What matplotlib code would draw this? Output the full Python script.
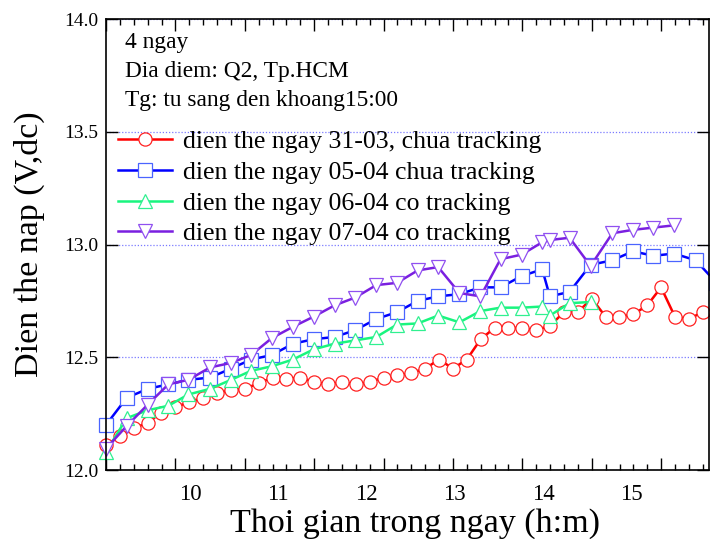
import matplotlib
matplotlib.use("Agg")
import matplotlib.pyplot as plt
from matplotlib.ticker import MultipleLocator

plt.rcParams["font.family"] = ["Liberation Serif", "DejaVu Serif"]

# ---------- data (x in hours as labelled on the axis) ----------
t_red = [9.047, 9.204, 9.362, 9.519, 9.676, 9.834, 9.991, 10.148, 10.305, 10.463,
         10.620, 10.777, 10.935, 11.092, 11.249, 11.407, 11.564, 11.721, 11.878, 12.036,
         12.193, 12.350, 12.508, 12.665, 12.822, 12.980, 13.137, 13.294, 13.451, 13.609,
         13.766, 13.923, 14.081, 14.238, 14.395, 14.553, 14.710, 14.867, 15.024, 15.182,
         15.339, 15.496, 15.654, 15.811, 15.968]
v_3103 = [12.11, 12.15, 12.185, 12.21, 12.255, 12.28, 12.30, 12.32, 12.34, 12.355,
          12.36, 12.385, 12.41, 12.405, 12.41, 12.39, 12.38, 12.39, 12.38, 12.39,
          12.41, 12.42, 12.43, 12.45, 12.49, 12.45, 12.49, 12.58, 12.63, 12.63,
          12.63, 12.62, 12.64, 12.70, 12.70, 12.76, 12.68, 12.68, 12.69, 12.73,
          12.81, 12.68, 12.67, 12.70, 12.67]

t_other = [9.047, 9.281, 9.520, 9.754, 9.981, 10.227, 10.465, 10.692, 10.927, 11.166,
           11.400, 11.638, 11.873, 12.111, 12.346, 12.580, 12.812, 13.053, 13.292, 13.519,
           13.757, 13.992, 14.078, 14.302, 14.540, 14.787, 15.020, 15.252, 15.486, 15.732,
           15.967]
v_0504 = [12.20, 12.32, 12.36, 12.38, 12.40, 12.41, 12.45, 12.49, 12.51, 12.56,
          12.58, 12.59, 12.62, 12.67, 12.70, 12.75, 12.77, 12.78, 12.81, 12.81,
          12.86, 12.89, 12.77, 12.79, 12.91, 12.93, 12.97, 12.95, 12.96, 12.93,
          12.83]
v_0604 = [12.08, 12.23, 12.265, 12.285, 12.335, 12.36, 12.40, 12.44, 12.46, 12.49,
          12.535, 12.56, 12.575, 12.59, 12.645, 12.65, 12.685, 12.655, 12.705, 12.72,
          12.72, 12.725, 12.685, 12.74, 12.745]
v_0704 = [12.095, 12.195, 12.29, 12.38, 12.40, 12.455, 12.475, 12.51, 12.585, 12.635,
          12.68, 12.73, 12.765, 12.82, 12.83, 12.885, 12.90, 12.785, 12.77, 12.935,
          12.955, 13.01, 13.02, 13.03, 12.905, 13.05, 13.065, 13.075, 13.085]

labels = ["dien the ngay 31-03, chua tracking",
          "dien the ngay 05-04 chua tracking",
          "dien the ngay 06-04 co tracking",
          "dien the ngay 07-04 co tracking"]
hour_ticks = [10, 11, 12, 13, 14, 15]
info_lines = ["4 ngay", "Dia diem: Q2, Tp.HCM", "Tg: tu sang den khoang15:00"]

# ---------- figure ----------
fig = plt.figure(figsize=(7.1, 5.39), dpi=100)
ax = fig.add_axes([0.1493, 0.128, 0.8490, 0.8367])

common = dict(lw=1.8, ms=9.5, mew=0.9, mfc="white", clip_on=False)
ax.plot(t_red, v_3103, marker="o", color="#ff0000", mec="#ff2020", label=labels[0], **common)
ax.plot(t_other, v_0504, marker="s", color="#0000ff", mec="#4a64ff", label=labels[1], **common)
ax.plot(t_other[:len(v_0604)], v_0604, marker="^", color="#19f57f", mec="#30f090",
        label=labels[2], **common)
ax.plot(t_other[:len(v_0704)], v_0704, marker="v", color="#7a1fe0", mec="#9050f0",
        label=labels[3], **common)

ax.set_xlim(9.047, 15.88)
ax.set_ylim(12.0, 14.0)

# tick marks (Origin style, inward, all four sides)
ax.xaxis.set_major_locator(MultipleLocator(0.7866, offset=9.047))
ax.xaxis.set_minor_locator(MultipleLocator(0.7866 / 5, offset=9.047))
ax.yaxis.set_major_locator(MultipleLocator(0.5))
ax.tick_params(axis="x", which="both", direction="in", top=True, bottom=True,
               labelbottom=False)
ax.tick_params(axis="x", which="major", length=8.6, width=1.0)
ax.tick_params(axis="x", which="minor", length=4.3, width=1.0)
ax.tick_params(axis="y", which="major", direction="in", left=True, right=True,
               length=8.6, width=1.0, labelsize=14, pad=5.5)
ax.yaxis.set_major_formatter(plt.FormatStrFormatter("%.1f"))
for s in ax.spines.values():
    s.set_linewidth(1.2)

# hour labels
sec = ax.secondary_xaxis("bottom")
sec.set_xticks(hour_ticks)
sec.set_xticklabels([str(h) for h in hour_ticks])
sec.tick_params(length=0, labelsize=16.5, pad=10)
sec.spines["bottom"].set_visible(False)

ax.yaxis.grid(True, linestyle=(0, (1, 1.5)), color="#7a7aff", lw=0.9)
ax.set_axisbelow(True)

ax.set_xlabel("Thoi gian trong ngay (h:m)", fontsize=24.5, va="top")
ax.xaxis.set_label_coords(0.512, -0.084)
ax.set_ylabel("Dien the nap (V,dc)", fontsize=24.5, labelpad=14)

for i, line in enumerate(info_lines):
    ax.text(0.0316, 0.9357 - i * 0.0643, line, transform=ax.transAxes,
            fontsize=16.8, va="baseline", ha="left")

ax.legend(loc="upper left", bbox_to_anchor=(0.0, 0.78), frameon=False, fontsize=18.5,
          handlelength=2.1, handletextpad=0.43, labelspacing=0.3, borderaxespad=0.07)

fig.savefig("out.png", dpi=100)
